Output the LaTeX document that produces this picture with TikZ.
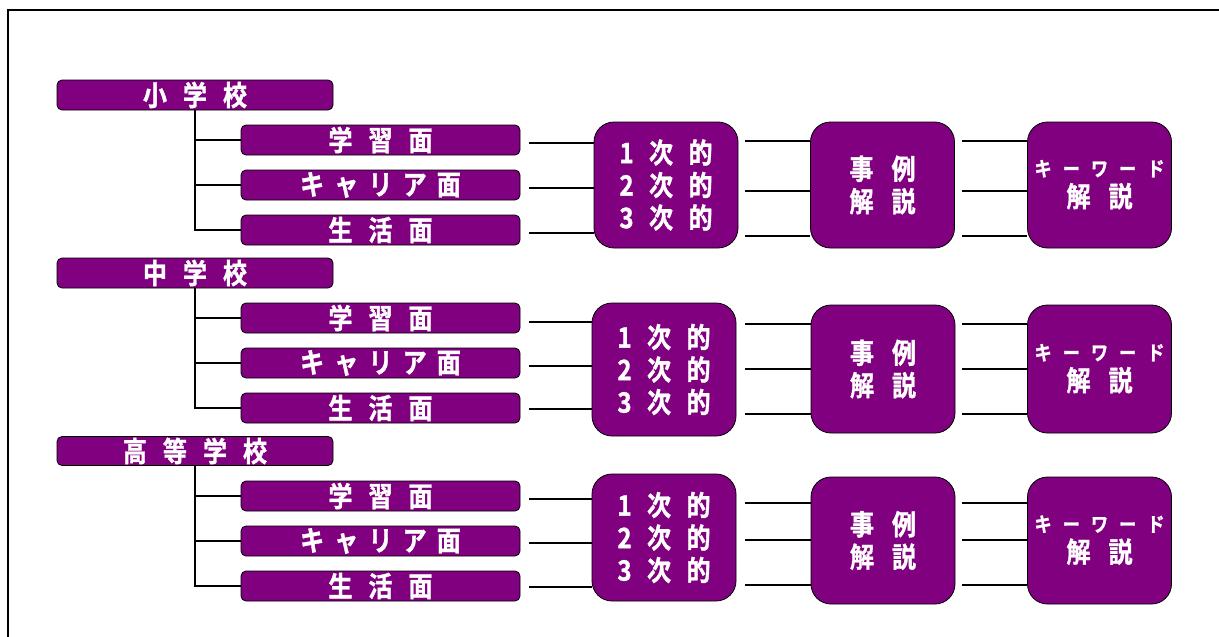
\documentclass[tikz,border=0pt]{standalone}
\usepackage{fontspec}
\newfontfamily\cjkb{Noto Sans CJK JP Bold}[FakeStretch=0.86,FakeBold=1.2]
\definecolor{purp}{HTML}{800080}
\newcommand\ls[2]{{\addfontfeature{LetterSpace=#1}#2}}
\begin{document}
\begin{tikzpicture}[x=1pt,y=-1pt,
  base/.style={draw=black,line width=0.8pt,fill=purp,text=white,inner sep=0pt,
    font=\cjkb\fontsize{28}{32.5}\selectfont,align=center},
  hdr/.style={base,rounded corners=5pt,minimum width=276pt,minimum height=30pt},
  subbox/.style={base,rounded corners=5pt,minimum width=279pt,minimum height=30pt},
  big/.style={base,rounded corners=20pt,minimum width=144pt},
  conn/.style={line width=2pt,line cap=butt}]
\useasboundingbox (0,0) rectangle (1219,637);
\fill[white] (0,0) rectangle (1219,637);
\coordinate (fa) at (8,637);
\coordinate (fb) at (8,10);
\coordinate (fc) at (1219,10);
\draw[line width=2pt] (fa) -- (fb) -- (fc);

% ---------- Row 1 ----------
\node[hdr] (h1) at (195,95) {\ls{57}{小学校}};
\node[subbox] (s11) at (380.5,140) {\ls{57}{学習面}};
\node[subbox] (s12) at (380.5,185) {\ls{36}{キャリア面}};
\node[subbox] (s13) at (380.5,230) {\ls{57}{生活面}};
\node[big,minimum height=126pt] (b11) at (666,185) {\ls{55}{1次的}\\\ls{55}{2次的}\\\ls{55}{3次的}};
\node[big,minimum height=126pt] (b12) at (882.5,185) {\ls{64}{事例}\\\ls{64}{解説}};
\node[big,minimum height=126pt] (b13) at (1099.5,185) {\raisebox{14pt}{\begin{tabular}{@{}c@{}}{\fontsize{20}{20}\selectfont\ls{55}{キーワード}}\\[-3pt]\ls{64}{解説}\end{tabular}}};
\foreach \s in {s11,s12,s13} \draw[conn] (h1.south) |- (\s.west);
\coordinate (a11) at (529,143); \coordinate (a12) at (529,188); \coordinate (a13) at (529,233);
\coordinate (c11) at (745,141); \coordinate (c12) at (745,191); \coordinate (c13) at (745,236);
\coordinate (d11) at (962,141); \coordinate (d12) at (962,191); \coordinate (d13) at (962,236);
\foreach \i in {1,2,3} {
  \draw[conn] (a1\i) -- (a1\i -| b11.west);
  \draw[conn] (c1\i) -- (c1\i -| b12.west);
  \draw[conn] (d1\i) -- (d1\i -| b13.west);
}

% ---------- Row 2 ----------
\node[hdr] (h2) at (195,273) {\ls{57}{中学校}};
\node[subbox] (s21) at (380.5,318) {\ls{57}{学習面}};
\node[subbox] (s22) at (380.5,363) {\ls{36}{キャリア面}};
\node[subbox] (s23) at (380.5,408) {\ls{57}{生活面}};
\node[big,minimum height=133pt] (b21) at (664,369.5) {\ls{55}{1次的}\\\ls{55}{2次的}\\\ls{55}{3次的}};
\node[big,minimum height=128pt] (b22) at (883,369) {\ls{64}{事例}\\\ls{64}{解説}};
\node[big,minimum height=128pt] (b23) at (1099.5,369) {\raisebox{2pt}{\begin{tabular}{@{}c@{}}{\fontsize{20}{20}\selectfont\ls{55}{キーワード}}\\[-3pt]\ls{64}{解説}\end{tabular}}};
\foreach \s in {s21,s22,s23} \draw[conn] (h2.south) |- (\s.west);
\coordinate (a21) at (529,322); \coordinate (a22) at (529,366); \coordinate (a23) at (529,409);
\coordinate (c21) at (745,324); \coordinate (c22) at (745,369); \coordinate (c23) at (745,414);
\coordinate (d21) at (962,324); \coordinate (d22) at (962,369); \coordinate (d23) at (962,414);
\foreach \i in {1,2,3} {
  \draw[conn] (a2\i) -- (a2\i -| b21.west);
  \draw[conn] (c2\i) -- (c2\i -| b22.west);
  \draw[conn] (d2\i) -- (d2\i -| b23.west);
}

% ---------- Row 3 ----------
\node[hdr,minimum height=29pt] (h3) at (195,451) {\ls{57}{高等学校}};
\node[subbox] (s31) at (380.5,496) {\ls{57}{学習面}};
\node[subbox] (s32) at (380.5,541) {\ls{36}{キャリア面}};
\node[subbox] (s33) at (380.5,586) {\ls{57}{生活面}};
\node[big,minimum height=127pt] (b31) at (664,537.5) {\ls{55}{1次的}\\\ls{55}{2次的}\\\ls{55}{3次的}};
\node[big,minimum height=127pt] (b32) at (883,540.5) {\ls{64}{事例}\\\ls{64}{解説}};
\node[big,minimum height=127pt] (b33) at (1099.5,540.5) {\raisebox{2pt}{\begin{tabular}{@{}c@{}}{\fontsize{20}{20}\selectfont\ls{55}{キーワード}}\\[-3pt]\ls{64}{解説}\end{tabular}}};
\foreach \s in {s31,s32,s33} \draw[conn] (h3.south) |- (\s.west);
\coordinate (a31) at (529,499); \coordinate (a32) at (529,543); \coordinate (a33) at (529,587);
\coordinate (c31) at (745,503); \coordinate (c32) at (745,540); \coordinate (c33) at (745,585);
\coordinate (d31) at (962,503); \coordinate (d32) at (962,540); \coordinate (d33) at (962,585);
\foreach \i in {1,2,3} {
  \draw[conn] (a3\i) -- (a3\i -| b31.west);
  \draw[conn] (c3\i) -- (c3\i -| b32.west);
  \draw[conn] (d3\i) -- (d3\i -| b33.west);
}
\end{tikzpicture}
\end{document}
